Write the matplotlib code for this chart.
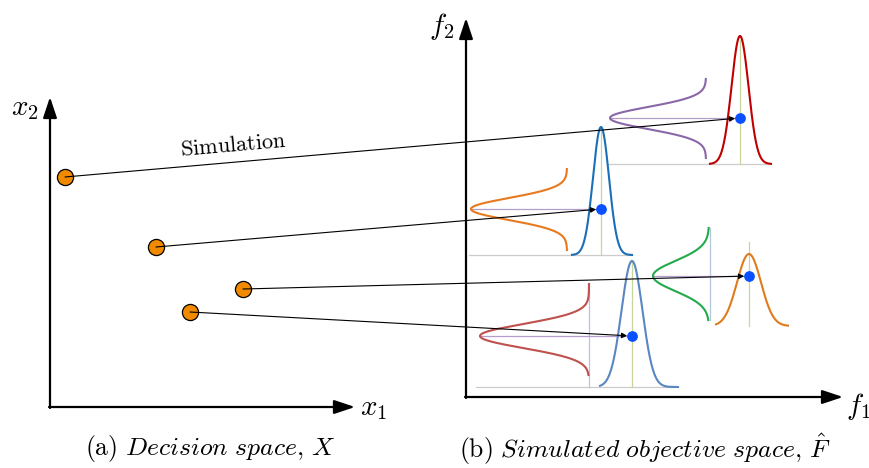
import numpy as np
import matplotlib
matplotlib.use("Agg")
import matplotlib.pyplot as plt

plt.rcParams['mathtext.fontset'] = 'cm'

# decision space points (pixel coords of the sketch)
pt_x1 = [65, 156, 243, 190]
pt_x2 = [177, 247, 289, 312]

# simulated objective means (where the arrows land)
mean_f1 = [740, 601, 749, 632]
mean_f2 = [118, 209, 276, 336]

# f1 marginal (upright bell): baseline, peak, sigma, extent
f1_base = [164, 255, 326, 387]
f1_peak = [36, 127, 254, 261]
f1_sigma = [8.5, 8, 12, 10.5]
f1_lo = [710, 572, 716, 600]
f1_hi = [771, 632, 788, 678]
f1_color = ['#c00000', '#1a6fb8', '#e07b1c', '#5a86c2']

# f2 marginal (sideways bell): baseline, peak, sigma, extent
f2_base = [706, 567, 709, 589]
f2_peak = [610, 471, 653, 480]
f2_sigma = [11, 11, 15, 12]
f2_lo = [79, 169, 228, 284]
f2_hi = [158, 250, 320, 375]
f2_color = ['#8a68a8', '#e8791e', '#22aa4c', '#c0504d']

# light guide lines
grey_lo = [608, 469, None, 476]
mark_top = [40, 130, 242, 261]
side_rule = [None, None, (710, 228, 320), (589, 284, 387)]

fig = plt.figure(figsize=(8.7, 4.68), dpi=100)
ax = fig.add_axes([0, 0, 1, 1])
ax.set_xlim(0, 870)
ax.set_ylim(468, 0)
ax.axis('off')

akw = dict(arrowstyle='-|>,head_width=0.3,head_length=0.9', lw=1.6, color='black',
           mutation_scale=14, shrinkA=0, shrinkB=0)
# left axes
ax.annotate('', xy=(50, 97), xytext=(50, 408), arrowprops=akw)
ax.annotate('', xy=(355, 407), xytext=(49, 407), arrowprops=akw)
ax.text(25, 108, r'$x_2$', fontsize=21, ha='center', va='center')
ax.text(374, 408, r'$x_1$', fontsize=21, ha='center', va='center')
# right axes
ax.annotate('', xy=(466, 18), xytext=(466, 398), arrowprops=akw)
ax.annotate('', xy=(843, 397), xytext=(465, 397), arrowprops=akw)
ax.text(442, 26, r'$f_2$', fontsize=21, ha='center', va='center')
ax.text(858, 406, r'$f_1$', fontsize=21, ha='center', va='center')

for i in range(4):
    # guide lines
    if grey_lo[i] is not None:
        ax.plot([grey_lo[i], f1_hi[i]], [f1_base[i], f1_base[i]], color='#cccccc', lw=0.9, zorder=1)
    ax.plot([mean_f1[i], mean_f1[i]], [mark_top[i], f1_base[i]], color='#c5d59c', lw=0.9, zorder=1)
    if side_rule[i] is not None:
        sx, s0, s1 = side_rule[i]
        ax.plot([sx, sx], [s0, s1], color='#b4c6dc', lw=0.9, zorder=1)
    ax.plot([f2_peak[i], mean_f1[i]], [mean_f2[i], mean_f2[i]], color='#b49ccc', lw=0.9, zorder=1)

    # upright bell
    xs = np.linspace(f1_lo[i], f1_hi[i], 200)
    amp = f1_base[i] - f1_peak[i]
    ys = f1_base[i] - amp * np.exp(-(xs - mean_f1[i]) ** 2 / (2 * f1_sigma[i] ** 2))
    ax.plot(xs, ys, color=f1_color[i], lw=1.5, zorder=2)

    # sideways bell
    yv = np.linspace(f2_lo[i], f2_hi[i], 200)
    amp2 = f2_base[i] - f2_peak[i]
    xv = f2_base[i] - amp2 * np.exp(-(yv - mean_f2[i]) ** 2 / (2 * f2_sigma[i] ** 2))
    ax.plot(xv, yv, color=f2_color[i], lw=1.5, zorder=2)

# orange decision points
ax.scatter(pt_x1, pt_x2, s=135, color='#f28a00', edgecolor='black', linewidth=0.9, zorder=3)

# simulation arrows
for i in range(4):
    ax.annotate('', xy=(mean_f1[i], mean_f2[i]), xytext=(pt_x1[i], pt_x2[i]),
                arrowprops=dict(arrowstyle='-|>', lw=0.8, color='black',
                                mutation_scale=8, shrinkA=0, shrinkB=3.5),
                zorder=4)

ax.scatter(mean_f1, mean_f2, s=45, color='#0a50ff', zorder=5)

ax.text(233, 145, r'$\mathrm{Simulation}$', fontsize=16, rotation=5,
        ha='center', va='center')

ax.text(210, 449, r'$\mathrm{(a)}\ \mathit{Decision\ space,}\!\ X$', fontsize=18.5,
        ha='center', va='center')
ax.text(645, 449, r'$\mathrm{(b)}\ \mathit{Simulated\ objective\ space,}\!\ \hat{F}$', fontsize=18.5,
        ha='center', va='center')

fig.savefig('out.png', dpi=100)
